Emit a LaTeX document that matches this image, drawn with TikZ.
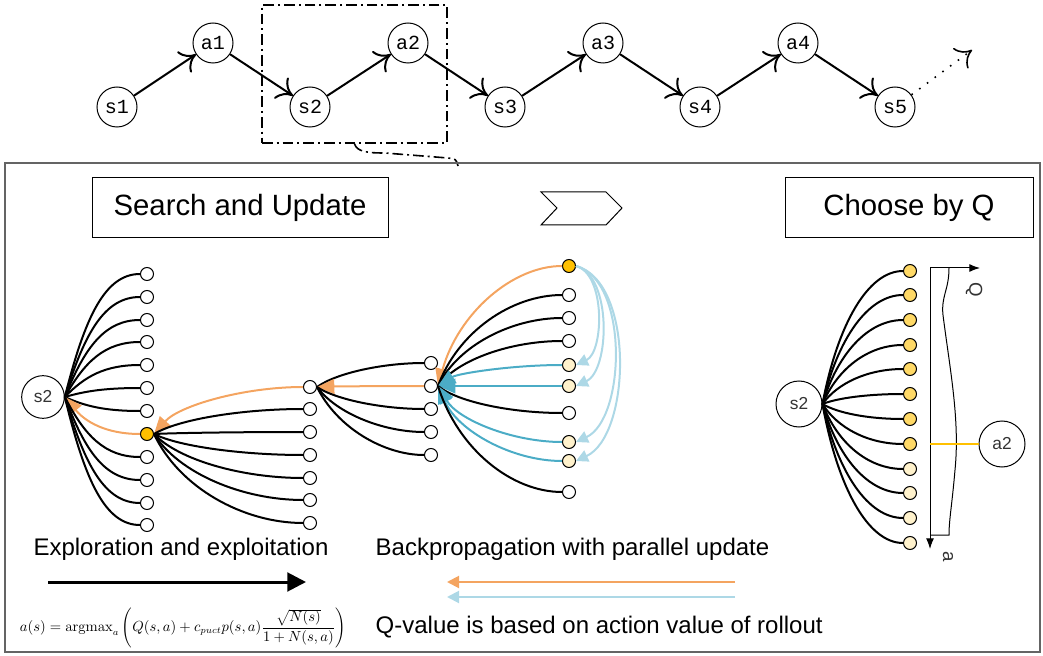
\documentclass[tikz,border=0pt]{standalone}
\usepackage[no-math]{fontspec}
\setmainfont{Liberation Sans}
\newfontfamily\chainfont{Liberation Mono}
\usetikzlibrary{arrows.meta}

\definecolor{backorange}{RGB}{244,164,96}
\definecolor{rolloutcyan}{RGB}{75,172,198}
\definecolor{rolloutblue}{RGB}{173,216,230}
\definecolor{goldA}{RGB}{255,192,0}
\definecolor{goldB}{RGB}{255,217,102}
\definecolor{paleyellow}{RGB}{255,242,204}
\definecolor{labelgray}{RGB}{51,51,51}
\definecolor{framegray}{RGB}{100,100,100}

\tikzset{
  statenode/.style={circle, draw, line width=0.75pt, minimum size=30pt, inner sep=0pt,
    font=\chainfont\fontsize{15}{15}\selectfont},
  rootnode/.style={circle, draw, line width=0.75pt, minimum size=32pt, inner sep=0pt,
    text=labelgray, font=\fontsize{13}{13}\selectfont},
  leaf/.style={circle, draw, line width=0.75pt, minimum size=9.75pt, inner sep=0pt},
  chainarrow/.style={line width=1.5pt, -{Computer Modern Rightarrow[length=11pt,width=19pt]}},
  focusline/.style={line width=1.2pt, dash pattern=on 8pt off 3pt on 1.5pt off 3pt},
  titlebox/.style={draw, line width=0.75pt, minimum height=45pt, font=\fontsize{22}{22}\selectfont},
  captiontext/.style={font=\fontsize{18}{18}\selectfont},
  edgeblack/.style={line width=1.5pt},
  edgeorange/.style={line width=1.5pt, draw=backorange, {Triangle[length=13pt,width=11pt]}-},
  edgecyan/.style={line width=1.5pt, draw=rolloutcyan, {Triangle[length=13pt,width=11pt]}-},
  rolloutarc/.style={line width=1.5pt, draw=rolloutblue, -{Triangle[length=9pt,width=9pt]}},
}

\begin{document}
\begin{tikzpicture}[x=0.75pt, y=-0.75pt]
  \useasboundingbox (0,0) rectangle (1043,656);

  % state/action chain on top
  \foreach \n/\x/\y in {s1/117/107, a1/213/43, s2/310/107, a2/408/43, s3/505/107,
                        a3/603/43, s4/700/107, a4/798/43, s5/895/107}
    \node[statenode] (\n) at (\x,\y) {\n};
  \foreach \u/\v in {s1/a1, a1/s2, s2/a2, a2/s3, s3/a3, a3/s4, s4/a4, a4/s5}
    \draw[chainarrow] (\u) -- (\v);
  \coordinate (more) at (972,50);
  \draw[chainarrow, line width=1.2pt, dash pattern=on 1.2pt off 6pt] (s5) -- (more);

  % zoomed part of the chain
  \node[draw, focusline, minimum width=138.75pt, minimum height=103.5pt] (focus) at (354.5,74) {};
  \coordinate (framein) at (458,166);
  \draw[focusline] (focus.south) .. controls (357,152) and (368,153) .. (385,153)
    -- (448,158) .. controls (456,159) .. (framein);

  % outer frame
  \draw[framegray, line width=1.2pt] (5,163) rectangle (1040,652);

  % headers
  \node[titlebox, minimum width=222pt] (search) at (240,208) {Search and Update};
  \node[titlebox, minimum width=186pt] (choose) at (909,208) {Choose by Q};
  \draw[line width=0.75pt] (541,192) -- (606,192) -- (622,208) -- (606,225) -- (541,225) -- (557,208) -- cycle;

  % search tree, level 1
  \node[rootnode] (ls2) at (43,397) {s2};
  \foreach \y/\f/\e [count=\i] in {274/white/black, 297/white/black, 320/white/black, 342/white/black,
      365/white/black, 388/white/black, 411/white/black, 434/goldA/orange, 457/white/black,
      480/white/black, 503/white/black, 525/white/black}{
    \node[leaf, fill=\f] (l\i) at (147,\y) {};
    \draw[edge\e] (ls2.east) .. controls +(20,{0.65*(\y-397)}) and +(-35,0) .. (l\i.west);
  }

  % level 2
  \foreach \y/\e [count=\i] in {387/orange, 409/black, 432/black, 455/black, 478/black, 500/black, 523/black}{
    \node[leaf, fill=white] (m\i) at (310,\y) {};
    \draw[edge\e] (l8.east) .. controls +(25,{0.6*(\y-434)}) and +(-60,0) .. (m\i.west);
  }

  % level 3
  \foreach \y/\e [count=\i] in {363/black, 386/orange, 409/black, 432/black, 455/black}{
    \node[leaf, fill=white] (n\i) at (431,\y) {};
    \draw[edge\e] (m1.east) .. controls +(20,{0.6*(\y-387)}) and +(-40,0) .. (n\i.west);
  }

  % level 4 with rollouts
  \foreach \y/\f/\e [count=\i] in {266/goldA/orange, 295/white/black, 318/white/black, 341/white/black,
      365/paleyellow/cyan, 386/paleyellow/cyan, 413/white/black, 442/paleyellow/cyan,
      461/paleyellow/cyan, 492/white/black}{
    \node[leaf, fill=\f] (p\i) at (569,\y) {};
    \draw[edge\e] (n2.east) .. controls +(20,{0.6*(\y-386)}) and +(-50,0) .. (p\i.west);
  }
  \foreach \t in {5,6,8,9}
    \draw[rolloutarc] (p1.east) to[out=-15, in=25, looseness=0.8] (p\t.east);

  % choose by Q
  \node[rootnode, minimum size=34.5pt] (rs2) at (799,404) {s2};
  \foreach \y/\f [count=\i] in {271/goldB, 295/goldB, 320/goldB, 345/goldB, 369/goldB, 394/goldB,
      419/goldB, 444/goldB, 469/paleyellow, 493/paleyellow, 518/paleyellow, 543/paleyellow}{
    \node[leaf, fill=\f] (r\i) at (910,\y) {};
    \draw[edgeblack] (rs2.east) .. controls +(15,{0.6*(\y-404)}) and +(-35,0) .. (r\i.west);
  }
  \coordinate (qo) at (930,268);
  \coordinate (qx) at (980,268);
  \coordinate (qy) at (930,549);
  \draw[line width=0.75pt, -{Latex[length=8pt,width=6pt]}] (qo) -- (qx);
  \draw[line width=0.75pt, -{Latex[length=8pt,width=6pt]}] (qo) -- (qy);
  \node[text=labelgray, rotate=-90, font=\fontsize{14}{14}\selectfont] (qlabel) at (974,290) {Q};
  \node[text=labelgray, rotate=-90, font=\fontsize{14}{14}\selectfont] (alabel) at (948,557) {a};
  \draw[line width=0.75pt] (949,268) .. controls (949,290) and (941,296) .. (943,315)
    .. controls (950,370) and (960,420) .. (955,470) .. controls (952,505) and (949,520) .. (949,535) -- (930,535);
  \node[rootnode, minimum size=34.5pt] (ra2) at (1002,444) {a2};
  \coordinate (pick) at (930,444);
  \draw[goldA, line width=1.5pt] (pick) -- (ra2);

  % captions and legend
  \node[captiontext] (explore) at (181,549) {Exploration and exploitation};
  \node[captiontext, anchor=west] (backprop) at (371,549) {Backpropagation with parallel update};
  \node[captiontext, anchor=west] (qvalue) at (371,627) {Q-value is based on action value of rollout};
  \coordinate (exA) at (48,582);
  \coordinate (exB) at (306,582);
  \draw[line width=2.25pt, -{Triangle[length=14pt,width=14pt]}] (exA) -- (exB);
  \coordinate (bpA) at (735,582);
  \coordinate (bpB) at (447,582);
  \coordinate (roA) at (735,597);
  \coordinate (roB) at (447,597);
  \draw[backorange, line width=1.5pt, -{Triangle[length=9pt,width=9pt]}] (bpA) -- (bpB);
  \draw[rolloutblue, line width=1.5pt, -{Triangle[length=9pt,width=9pt]}] (roA) -- (roB);
  \node[font=\fontsize{10.6}{12}\selectfont] (puct) at (183,628)
    {$a(s)=\mathrm{argmax}_a\left(Q(s,a)+c_{puct}p(s,a)\displaystyle\frac{\sqrt{N(s)}}{1+N(s,a)}\right)$};

\end{tikzpicture}
\end{document}
